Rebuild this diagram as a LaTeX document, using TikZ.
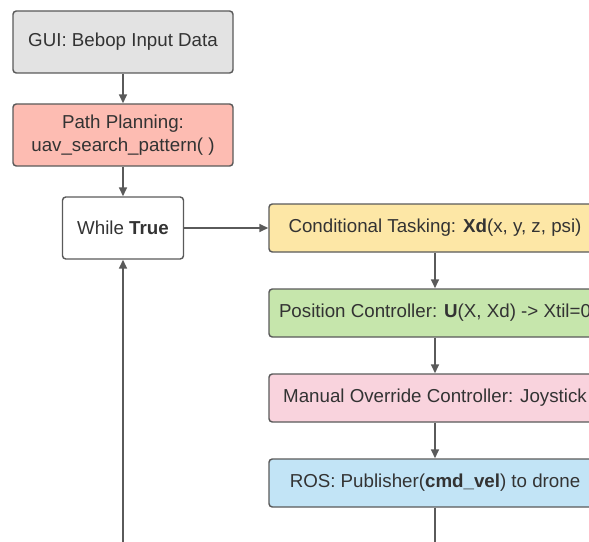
\documentclass[tikz,border=0pt]{standalone}
\usepackage{fontspec}
\setmainfont{Liberation Sans}
\usetikzlibrary{arrows.meta}
\definecolor{edgec}{HTML}{5A5A5A}
\definecolor{txtc}{HTML}{333333}
\definecolor{cgray}{HTML}{E3E3E3}
\definecolor{cred}{HTML}{FDBCB2}
\definecolor{cyel}{HTML}{FDE7A6}
\definecolor{cgreen}{HTML}{C6E6AC}
\definecolor{cpink}{HTML}{F9D3DD}
\definecolor{cblue}{HTML}{C2E4F6}
\tikzset{
  box/.style={draw=edgec, line width=1.1pt, rounded corners=2.5pt, inner sep=0pt,
    text=txtc, font=\fontsize{14.05}{16.8}\selectfont, align=center},
  conn/.style={draw=edgec, line width=1.2pt, -{Triangle[length=6.75pt,width=6pt]}}
}
\begin{document}
\begin{tikzpicture}[x=0.75pt,y=-0.75pt]
\useasboundingbox (0,0) rectangle (589,542);
\clip (0,0) rectangle (589,542);
\node[box, fill=cgray, minimum width=165pt, minimum height=46.5pt] (gui) at (123,42) {GUI: Bebop Input Data};
\node[box, fill=cred, minimum width=165pt, minimum height=46.5pt] (pp) at (123,135) {Path Planning:\\uav\_search\_pattern( )};
\node[box, fill=white, minimum width=90.75pt, minimum height=46.5pt] (wt) at (123,228) {While \textbf{True}};
\node[box, fill=cyel, minimum width=249pt, minimum height=36pt] (ct) at (435,228) {Conditional Tasking: \textbf{Xd}(x, y, z, psi)};
\node[box, fill=cgreen, minimum width=249pt, minimum height=36pt] (pc) at (435,313) {Position Controller: \textbf{U}(X, Xd) -> Xtil=0};
\node[box, fill=cpink, minimum width=249pt, minimum height=36pt] (mo) at (435,398) {Manual Override Controller: Joystick};
\node[box, fill=cblue, minimum width=249pt, minimum height=36pt] (ros) at (435,483) {ROS: Publisher(\textbf{cmd\_vel}) to drone};
\coordinate (bot) at (435,580);
\draw[conn] (gui) -- (pp);
\draw[conn] (pp) -- (wt);
\draw[conn] (wt) -- (ct);
\draw[conn] (ct) -- (pc);
\draw[conn] (pc) -- (mo);
\draw[conn] (mo) -- (ros);
\draw[conn] (ros.south) -- (bot) -| (wt.south);
\end{tikzpicture}
\end{document}
